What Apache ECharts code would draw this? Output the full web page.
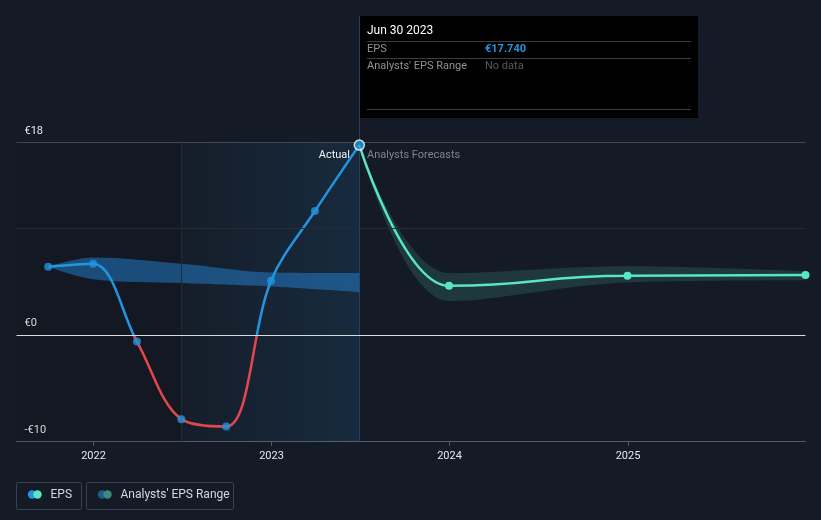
<!DOCTYPE html>
<html>
<head>
<meta charset="utf-8">
<script src="https://cdn.jsdelivr.net/npm/echarts@6/dist/echarts.min.js"></script>
<style>
  html, body { margin: 0; padding: 0; background: #151b26; }
  #chart { width: 821px; height: 520px; }
</style>
</head>
<body>
<div id="chart"></div>
<script>
// EPS, actual
const pastDates = ["2021-09-30", "2021-12-31", "2022-03-31", "2022-06-30", "2022-09-30", "2022-12-31", "2023-03-31", "2023-06-30"];
const pastEps = [6.36, 6.64, -0.63, -7.89, -8.58, 5.05, 11.57, 17.74];
// analysts' range, past
const rangePastDates = ["2021-09-30", "2021-12-31", "2022-06-30", "2022-12-31", "2023-06-30"];
const rangePastLow = [6.36, 5.2, 4.84, 4.52, 3.99];
const rangePastHigh = [6.36, 7.22, 6.64, 5.83, 5.77];
// forecast
const forecastDates = ["2023-06-30", "2023-12-31", "2024-12-31", "2025-12-31"];
const forecastEps = [17.74, 4.58, 5.52, 5.58];
const forecastLow = [17.74, 3.15, 4.9, 5.09];
const forecastHigh = [17.74, 5.75, 6.4, 5.93];
// axes
const yTickLabels = { "18": "€18", "0": "€0", "-10": "-€10" };
const xStart = "2021-07-27";
const xEnd = "2025-12-31";

const BLUE = "#2394df";
const RED = "#e2474c";
const TEAL = "#58e6c7";
const FONT = "Roboto";
const SMOOTH = 0.35;
const YEAR = 365 * 24 * 3600 * 1000;

function ts(s) {
  const p = s.split("-");
  return +new Date(+p[0], +p[1] - 1, +p[2]);
}
function zip(xs, ys) {
  return xs.map((x, i) => [ts(x), ys[i]]);
}
function diff(hi, lo) {
  return hi.map((v, i) => +(v - lo[i]).toFixed(3));
}

const chart = echarts.init(document.getElementById("chart"));

const option = {
  backgroundColor: "#151b26",
  animation: false,
  textStyle: { fontFamily: FONT },
  grid: { left: 16.5, right: 15.5, top: 142.3, bottom: 78.3 },
  xAxis: {
    type: "time",
    min: ts(xStart),
    max: ts(xEnd),
    minInterval: YEAR,
    maxInterval: YEAR + 86400000,
    splitLine: { show: false },
    axisLine: { onZero: false, lineStyle: { color: "#565a62", width: 1 } },
    axisTick: { show: true, length: 4, lineStyle: { color: "#565a62" } },
    axisLabel: {
      color: "#e6e8ea",
      fontSize: 11,
      margin: 9,
      showMinLabel: false,
      showMaxLabel: false,
      formatter: (v) => {
        const d = new Date(v);
        return d.getMonth() === 0 && d.getDate() === 1 ? String(d.getFullYear()) : "";
      }
    }
  },
  yAxis: {
    type: "value",
    min: -10,
    max: 18,
    interval: 1,
    splitLine: { show: false },
    axisLine: { show: false },
    axisTick: { show: false },
    axisLabel: {
      inside: true,
      margin: 8,
      verticalAlign: "bottom",
      padding: [0, 0, 6, 0],
      color: "#e6e8ea",
      fontSize: 11,
      formatter: (v) => yTickLabels[String(v)] || ""
    }
  },
  series: [
    // past range: base + width
    {
      type: "line",
      stack: "pastRange",
      smooth: SMOOTH,
      symbol: "none",
      lineStyle: { opacity: 0 },
      data: zip(rangePastDates, rangePastLow),
      z: 2,
      markArea: {
        silent: true,
        data: [
          [{ xAxis: ts(xStart), itemStyle: { color: "rgba(0,0,0,0.08)" } }, { xAxis: ts("2022-06-30") }],
          [{
            xAxis: ts("2022-06-30"),
            itemStyle: {
              color: new echarts.graphic.LinearGradient(0, 0, 1, 0, [
                { offset: 0, color: "rgba(35,148,223,0.02)" },
                { offset: 1, color: "rgba(35,148,223,0.13)" }
              ])
            }
          }, { xAxis: ts("2023-06-30") }]
        ]
      },
      markLine: {
        silent: true,
        symbol: "none",
        label: { show: false },
        lineStyle: { type: "solid", width: 1 },
        data: [
          { yAxis: 18, lineStyle: { color: "#44474f", type: "solid" } },
          { yAxis: 10, lineStyle: { color: "#272b33", type: "solid" } },
          { xAxis: ts("2022-06-30"), lineStyle: { color: "#1d2a38", type: "solid" } },
          { yAxis: 0, lineStyle: { color: "#d8dbde", type: "solid" } }
        ]
      }
    },
    {
      type: "line",
      stack: "pastRange",
      smooth: SMOOTH,
      symbol: "none",
      lineStyle: { opacity: 0 },
      areaStyle: { color: "rgba(35,130,210,0.5)", opacity: 1 },
      data: zip(rangePastDates, diff(rangePastHigh, rangePastLow)),
      z: 2
    },
    // forecast range: base + width
    {
      type: "line",
      stack: "fcRange",
      smooth: SMOOTH,
      symbol: "none",
      lineStyle: { opacity: 0 },
      data: zip(forecastDates, forecastLow),
      z: 2
    },
    {
      type: "line",
      stack: "fcRange",
      smooth: SMOOTH,
      symbol: "none",
      lineStyle: { opacity: 0 },
      areaStyle: { color: "rgba(88,230,199,0.15)", opacity: 1 },
      data: zip(forecastDates, diff(forecastHigh, forecastLow)),
      z: 2
    },
    // EPS actual line (colour set below by sign)
    {
      id: "actual",
      type: "line",
      smooth: SMOOTH,
      showSymbol: false,
      lineStyle: { width: 2.5, color: BLUE },
      data: zip(pastDates, pastEps),
      z: 4
    },
    // EPS forecast line
    {
      type: "line",
      smooth: 0.5,
      smoothMonotone: "x",
      symbol: "circle",
      symbolSize: 8,
      showSymbol: true,
      itemStyle: { color: TEAL },
      lineStyle: { width: 2.5, color: TEAL },
      data: zip(forecastDates, forecastEps).map((d, i) => i === 0 ? { value: d, symbolSize: 0 } : d),
      z: 4
    },
    // actual points
    {
      type: "scatter",
      symbolSize: 8,
      itemStyle: { color: BLUE },
      data: zip(pastDates, pastEps).map((d, i) =>
        i === pastDates.length - 1
          ? { value: d, symbolSize: 10, itemStyle: { color: BLUE, borderColor: "#ffffff", borderWidth: 1.5 } }
          : d),
      z: 6
    }
  ]
};

chart.setOption(option);

// red below zero, blue above
const H = chart.getHeight();
const zeroY = chart.convertToPixel({ yAxisIndex: 0 }, 0);
const zf = zeroY / H;
const signGradient = new echarts.graphic.LinearGradient(0, 0, 0, H, [
  { offset: 0, color: BLUE },
  { offset: zf, color: BLUE },
  { offset: zf, color: RED },
  { offset: 1, color: RED }
], true);

// overlays anchored at the latest actual point
const lastIdx = pastDates.length - 1;
const anchor = chart.convertToPixel({ xAxisIndex: 0, yAxisIndex: 0 }, [ts(pastDates[lastIdx]), pastEps[lastIdx]]);
const bottomPx = chart.convertToPixel({ yAxisIndex: 0 }, -10);
const ax = Math.round(anchor[0]);
const tipTop = 16;
const tipW = 339;
const tipH = 102;

function legendItem(x, w, c1, c2, label) {
  return {
    type: "group",
    children: [
      { type: "rect", shape: { x: x, y: 482.5, width: w, height: 27, r: 2 }, style: { fill: "none", stroke: "#3c4049", lineWidth: 1 } },
      { type: "circle", shape: { cx: x + 15.5, cy: 494.5, r: 4.2 }, style: { fill: c1 } },
      { type: "circle", shape: { cx: x + 21, cy: 494.5, r: 4.2 }, style: { fill: c2 } },
      { type: "text", x: x + 34, y: 494.5, style: { text: label, fill: "#d4d7db", font: "12px " + FONT, verticalAlign: "middle" } }
    ]
  };
}

chart.setOption({
  series: [{ id: "actual", lineStyle: { color: signGradient } }],
  graphic: [
    { type: "line", silent: true, shape: { x1: ax + 0.5, y1: tipTop, x2: ax + 0.5, y2: bottomPx }, style: { stroke: "#24405c", lineWidth: 1 }, z: 1 },
    { type: "text", x: ax - 9, y: anchor[1] + 10, style: { text: "Actual", fill: "#f2f3f4", font: "11px " + FONT, align: "right", verticalAlign: "middle" }, z: 10 },
    { type: "text", x: ax + 8, y: anchor[1] + 10, style: { text: "Analysts Forecasts", fill: "#7f838a", font: "11px " + FONT, align: "left", verticalAlign: "middle" }, z: 10 },
    {
      type: "group",
      z: 20,
      children: [
        { type: "rect", shape: { x: ax, y: tipTop, width: tipW, height: tipH }, style: { fill: "#000000" } },
        { type: "text", x: ax + 8, y: tipTop + 15, style: { text: "Jun 30 2023", fill: "#ffffff", font: "12px " + FONT, verticalAlign: "middle" } },
        { type: "line", shape: { x1: ax + 8, y1: tipTop + 25.5, x2: ax + 332, y2: tipTop + 25.5 }, style: { stroke: "#3a3d42", lineWidth: 1 } },
        { type: "text", x: ax + 8, y: tipTop + 33.5, style: { text: "EPS", fill: "#8e9298", font: "11px " + FONT, verticalAlign: "middle" } },
        { type: "text", x: ax + 126, y: tipTop + 33.5, style: { text: "€17.740", fill: BLUE, font: "bold 11px " + FONT, verticalAlign: "middle" } },
        { type: "line", shape: { x1: ax + 8, y1: tipTop + 42.5, x2: ax + 332, y2: tipTop + 42.5 }, style: { stroke: "#3a3d42", lineWidth: 1 } },
        { type: "text", x: ax + 8, y: tipTop + 50, style: { text: "Analysts' EPS Range", fill: "#8e9298", font: "11px " + FONT, verticalAlign: "middle" } },
        { type: "text", x: ax + 126, y: tipTop + 50, style: { text: "No data", fill: "#565a60", font: "11px " + FONT, verticalAlign: "middle" } },
        { type: "line", shape: { x1: ax + 8, y1: tipTop + 93.5, x2: ax + 332, y2: tipTop + 93.5 }, style: { stroke: "#3a3d42", lineWidth: 1 } }
      ]
    },
    legendItem(16.5, 65, BLUE, TEAL, "EPS"),
    legendItem(86.5, 147, "#1f5a8c", "#3d8a80", "Analysts' EPS Range")
  ]
});
</script>
</body>
</html>
